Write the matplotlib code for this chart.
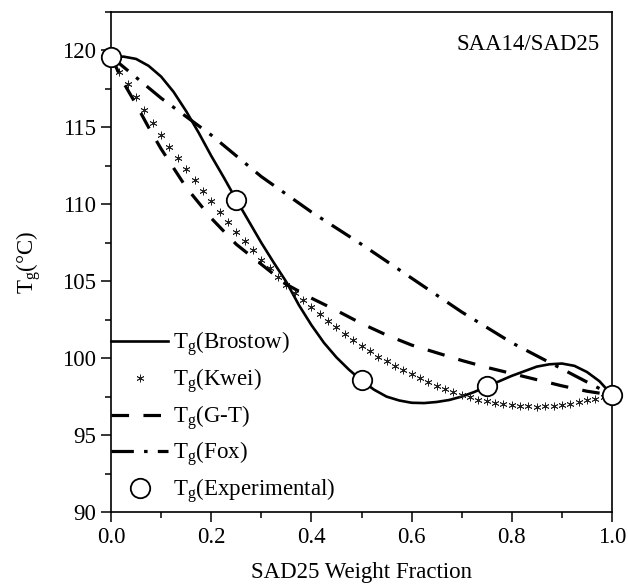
import numpy as np
import matplotlib
matplotlib.use("Agg")
import matplotlib.pyplot as plt
from matplotlib.ticker import MultipleLocator

plt.rcParams['font.family'] = ['Liberation Serif', 'DejaVu Serif']
plt.rcParams['mathtext.fontset'] = 'custom'
plt.rcParams['mathtext.rm'] = 'Liberation Serif'

# --- data ---
exp_w = [0.0, 0.25, 0.5, 0.75, 1.0]
exp_tg = [119.6, 110.3, 98.55, 98.2, 97.6]

brostow_w = np.linspace(0, 1, 41)
brostow_tg = [119.55, 119.6, 119.45, 119.0, 118.3, 117.3, 116.05, 114.65, 113.15, 111.75,
              110.3, 108.9, 107.5, 106.2, 104.95, 103.45, 102.15, 101.0, 100.05, 99.25,
              98.55, 97.95, 97.5, 97.25, 97.1, 97.08, 97.15, 97.28, 97.5, 97.8,
              98.15, 98.5, 98.85, 99.15, 99.45, 99.6, 99.65, 99.5, 99.1, 98.5, 97.6]

kwei_w = np.linspace(0, 1, 61)
kwei_tg = [119.6, 118.6, 117.8, 116.95, 116.1, 115.3, 114.5, 113.75, 113.0, 112.3,
           111.55, 110.85, 110.2, 109.5, 108.85, 108.2, 107.6, 107.0, 106.4, 105.85,
           105.3, 104.75, 104.25, 103.75, 103.3, 102.85, 102.4, 102.0, 101.6, 101.2,
           100.8, 100.45, 100.1, 99.8, 99.5, 99.2, 98.95, 98.7, 98.45, 98.2,
           98.0, 97.8, 97.6, 97.45, 97.3, 97.2, 97.1, 97.0, 96.95, 96.9,
           96.87, 96.85, 96.86, 96.9, 96.95, 97.03, 97.12, 97.25, 97.35, 97.47, 97.6]

gt_w = [0.0, 0.025, 0.05, 0.075, 0.1, 0.15, 0.2, 0.25, 0.3, 0.35, 0.4, 0.45, 0.5,
        0.55, 0.6, 0.65, 0.7, 0.75, 0.8, 0.85, 0.9, 0.95, 1.0]
gt_tg = [119.6, 117.9, 116.5, 115.0, 113.6, 111.1, 109.1, 107.4, 106.1, 104.8, 103.9,
         103.1, 102.25, 101.5, 100.85, 100.35, 99.85, 99.4, 99.0, 98.6, 98.2, 97.85, 97.6]

fox_w = [0.0, 0.1, 0.2, 0.3, 0.4, 0.5, 0.6, 0.7, 0.8, 0.9, 1.0]
fox_tg = [119.6, 116.9, 114.5, 111.8, 109.5, 107.4, 105.2, 103.0, 101.0, 99.3, 97.6]

fig = plt.figure(figsize=(6.28, 5.85), dpi=100)
ax = fig.add_axes([0.1768, 0.1248, 0.7977, 0.8547])

ax.plot(brostow_w, brostow_tg, color='black', lw=1.9,
        label=r'T$_\mathregular{g}$(Brostow)')
ax.plot(kwei_w, kwei_tg, ls='none', marker=(6, 2, 0), ms=5.5, mec='#222222',
        mew=0.6, color='black', label=r'T$_\mathregular{g}$(Kwei)')
ax.plot(gt_w, gt_tg, color='black', lw=2.3, dashes=(5.5, 4.5),
        label=r'T$_\mathregular{g}$(G-T)')
ax.plot(fox_w, fox_tg, color='black', lw=2.3, dashes=(7.0, 3.2, 1.1, 3.2),
        label=r'T$_\mathregular{g}$(Fox)')
ax.plot(exp_w, exp_tg, ls='none', marker='o', ms=14, mfc='white', mec='black',
        mew=1.3, clip_on=False, zorder=5, label=r'T$_\mathregular{g}$(Experimental)')

ax.set_xlim(0, 1.0)
ax.set_ylim(90, 122.5)
ax.xaxis.set_major_locator(MultipleLocator(0.2))
ax.xaxis.set_minor_locator(MultipleLocator(0.1))
ax.yaxis.set_major_locator(MultipleLocator(5))
ax.yaxis.set_minor_locator(MultipleLocator(2.5))
ax.tick_params(which='both', direction='out', width=1.1, labelsize=16.5, top=False, right=False)
ax.tick_params(which='major', length=7.5)
ax.tick_params(which='minor', length=4.5)
for s in ax.spines.values():
    s.set_linewidth(1.2)

ax.set_xlabel('SAD25 Weight Fraction', fontsize=16.5, labelpad=10)
ax.set_ylabel(r'T$_\mathregular{g}$(°C)', fontsize=16.5, labelpad=13)
ax.text(0.975, 0.955, 'SAA14/SAD25', transform=ax.transAxes, ha='right', va='top', fontsize=16.5)

ax.legend(loc='lower left', bbox_to_anchor=(0, 0.012), frameon=False, fontsize=16.5,
          handlelength=2.5, handletextpad=0.2, labelspacing=0.32, borderpad=0,
          borderaxespad=0, numpoints=1)

fig.savefig('out.png', dpi=100)
